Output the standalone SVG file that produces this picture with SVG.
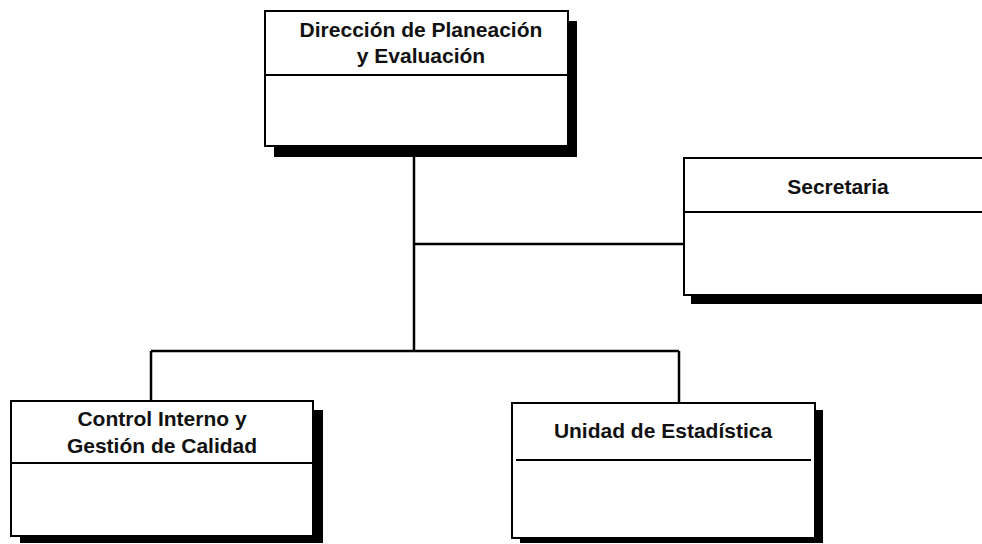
<svg xmlns="http://www.w3.org/2000/svg" width="982" height="544" viewBox="0 0 982 544">
<style>
.box{fill:#fff;stroke:#000;stroke-width:2}
.sh{fill:#000}
.div{stroke:#000;stroke-width:2}
.con{stroke:#000;stroke-width:2.5;fill:none}
.t{font-family:"Liberation Sans",Arial,sans-serif;font-weight:bold;font-size:21px;fill:#111;text-anchor:middle}
</style>
<rect width="982" height="544" fill="#fff"/>
<g id="connectors">
<path class="con" d="M414 157V351M414 244H684M151 351H679M151 351V401M679 351V403"/>
</g>
<g id="n-direccion">
<rect class="sh" x="274" y="21" width="303" height="136"/>
<rect class="box" x="265" y="11" width="303" height="135"/>
<line class="div" x1="265" y1="75" x2="568" y2="75"/>
<text class="t" x="421" y="37">Dirección de Planeación</text>
<text class="t" x="421" y="63">y Evaluación</text>
</g>
<g id="n-secretaria">
<rect class="sh" x="691" y="166" width="300" height="138"/>
<rect class="box" x="684" y="158" width="310" height="137"/>
<line class="div" x1="684" y1="212" x2="982" y2="212"/>
<text class="t" x="838" y="194">Secretaria</text>
</g>
<g id="n-control">
<rect class="sh" x="20" y="410" width="303" height="133"/>
<rect class="box" x="11" y="401" width="302" height="135"/>
<line class="div" x1="11" y1="463" x2="313" y2="463"/>
<text class="t" x="162" y="426">Control Interno y</text>
<text class="t" x="162" y="453">Gestión de Calidad</text>
</g>
<g id="n-unidad">
<rect class="sh" x="520" y="410" width="303" height="133"/>
<rect class="box" x="512" y="403" width="303" height="135"/>
<line class="div" x1="516" y1="460" x2="811" y2="460"/>
<text class="t" x="663" y="438">Unidad de Estadística</text>
</g>
</svg>
